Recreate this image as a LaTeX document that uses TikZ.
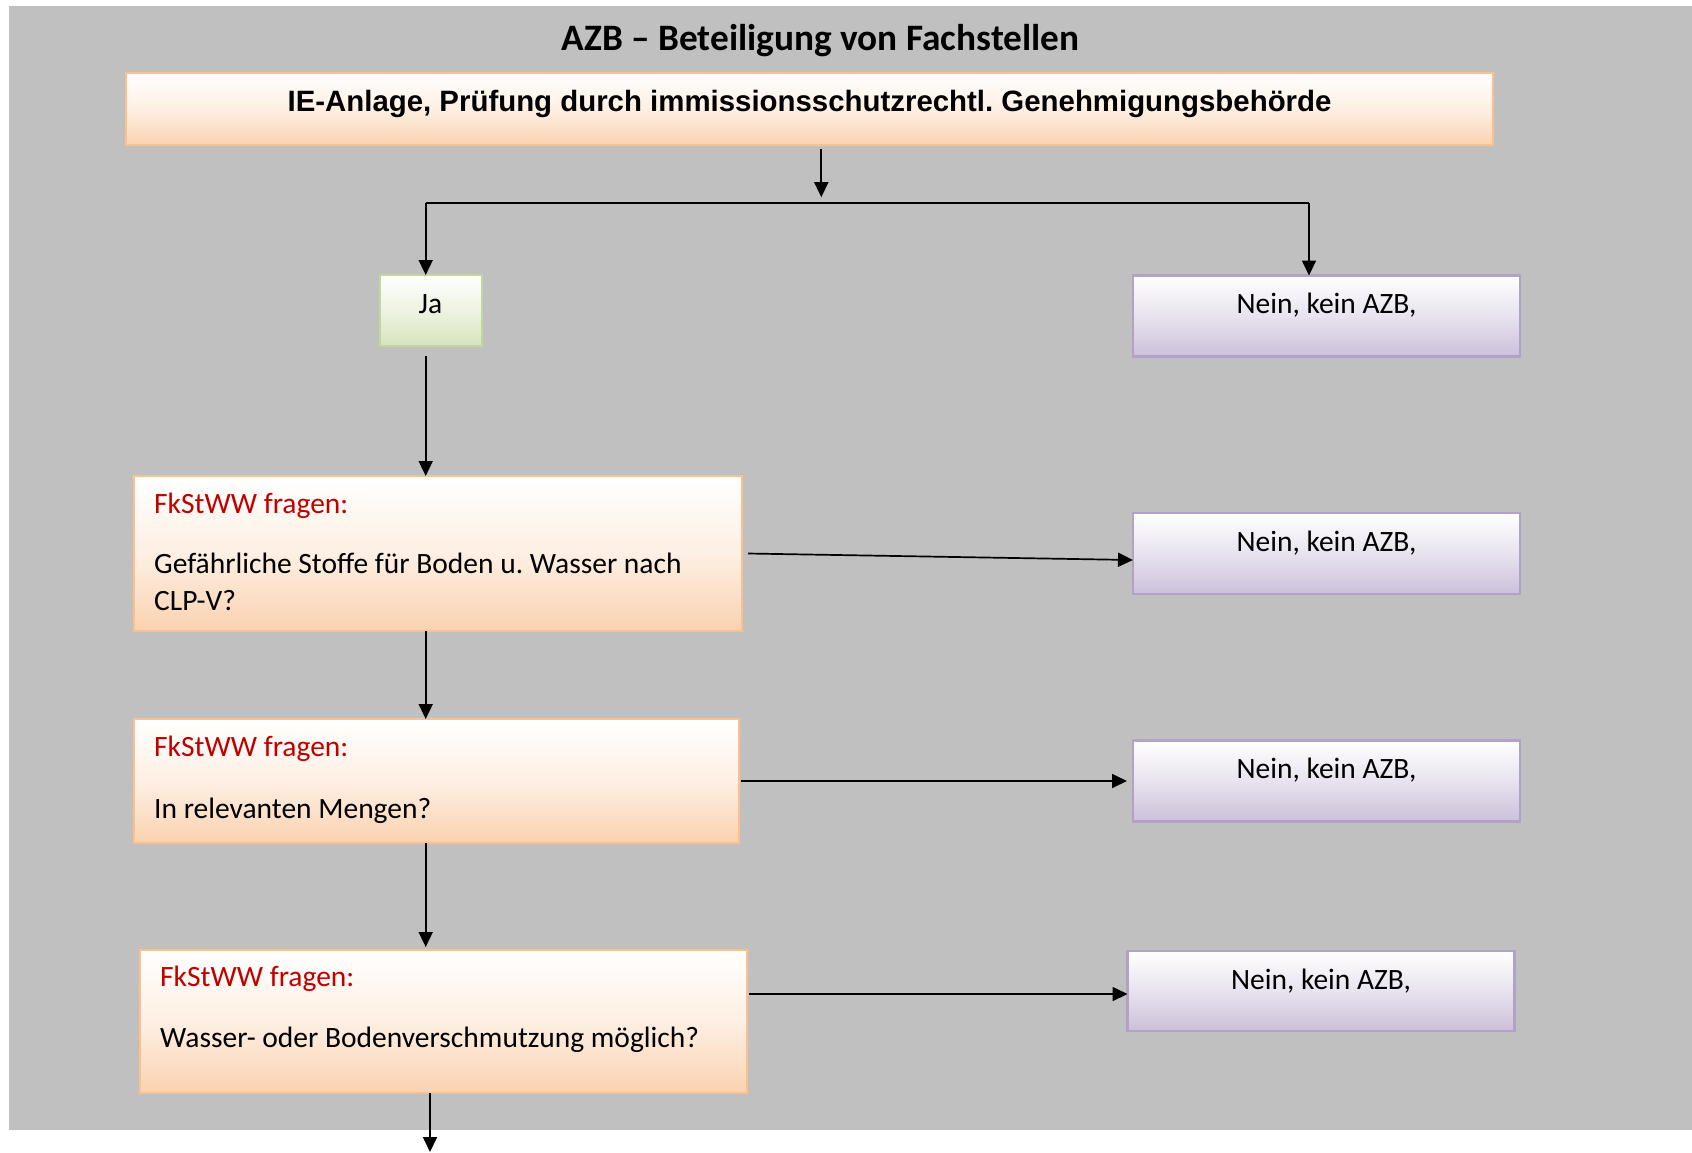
\documentclass[tikz,border=0pt]{standalone}
\usepackage{fontspec}
\setmainfont{Carlito}
\newfontfamily\arialfont{Liberation Sans}
\usetikzlibrary{arrows.meta}
\definecolor{bgray}{RGB}{192,192,192}
\definecolor{oB}{RGB}{250,192,144}
\definecolor{oF}{RGB}{250,210,176}
\definecolor{pB}{RGB}{179,162,199}
\definecolor{pF}{RGB}{204,192,218}
\definecolor{gB}{RGB}{195,214,155}
\definecolor{gF}{RGB}{215,228,189}
\definecolor{redtxt}{RGB}{192,0,0}
\frenchspacing
\tikzset{
  box/.style={line width=2.5pt, inner sep=0pt, outer sep=0pt, rectangle},
  obox/.style={box, draw=oB, top color=white, bottom color=oF, middle color={oF!35!white}},
  pbox/.style={box, draw=pB, top color=white, bottom color=pF, middle color={pF!45!white}},
  gbox/.style={box, draw=gB, top color=white, bottom color=gF, middle color={gF!45!white}},
  txt/.style={inner sep=0pt, font=\fontsize{29.5}{34}\selectfont},
  qtxt/.style={txt, anchor=base west},
  rtxt/.style={qtxt, text=redtxt},
  ntxt/.style={txt, anchor=base},
  arr/.style={-{Triangle[length=15pt,width=14pt]}, line width=1.7pt},
  ln/.style={line width=1.7pt}
}
\begin{document}
\begin{tikzpicture}[x=1pt,y=-1pt]
\useasboundingbox (0,0) rectangle (1692,1152);
\fill[bgray] (8.6,6) rectangle (1692,1129.5);

% title
\node[inner sep=0pt, anchor=base, font=\bfseries\fontsize{37.3}{44}\selectfont] (title) at (820.5,50) {AZB – Beteiligung von Fachstellen};

% boxes
\node[obox, minimum width=1367pt, minimum height=72pt] (top) at (809.5,109) {};
\node[gbox, minimum width=102pt, minimum height=71pt] (ja) at (431,310.5) {};
\node[pbox, minimum width=387pt, minimum height=81pt] (n1) at (1326.5,316) {};
\node[pbox, minimum width=387pt, minimum height=81pt] (n2) at (1326.5,553.5) {};
\node[pbox, minimum width=387pt, minimum height=81pt] (n3) at (1326.5,781) {};
\node[pbox, minimum width=387pt, minimum height=80pt] (n4) at (1321,991) {};
\node[obox, minimum width=608pt, minimum height=155pt] (b1) at (438,553.5) {};
\node[obox, minimum width=605pt, minimum height=124pt] (b2) at (436.5,781) {};
\node[obox, minimum width=607pt, minimum height=143pt] (b3) at (443.5,1021.5) {};

% texts
\node[inner sep=0pt, anchor=base, font=\arialfont\bfseries\fontsize{29.4}{34}\selectfont] (toptxt) at (809.5,111) {IE-Anlage, Prüfung durch immissionsschutzrechtl. Genehmigungsbehörde};
\node[ntxt] (jatxt) at (430.5,313.5) {Ja};
\node[ntxt] (n1txt) at (1326.5,313) {Nein, kein AZB,};
\node[ntxt] (n2txt) at (1326.5,551) {Nein, kein AZB,};
\node[ntxt] (n3txt) at (1326.5,778.3) {Nein, kein AZB,};
\node[ntxt] (n4txt) at (1321,989) {Nein, kein AZB,};

\node[rtxt] (b1a) at (154,513.3) {FkStWW fragen:};
\node[qtxt] (b1b) at (154,573.3) {Gefährliche Stoffe für Boden u. Wasser nach};
\node[qtxt] (b1c) at (154,610) {CLP-V?};
\node[rtxt] (b2a) at (154,756.7) {FkStWW fragen:};
\node[qtxt] (b2b) at (154,818.3) {In relevanten Mengen?};
\node[rtxt] (b3a) at (160,986) {FkStWW fragen:};
\node[qtxt] (b3b) at (160,1047.7) {Wasser- oder Bodenverschmutzung möglich?};

% coordinates
\coordinate (j) at (821.3,202.7);
\coordinate (jl) at (425.7,202.7);
\coordinate (jr) at (1309,202.7);
\coordinate (a3) at (749,994);
\coordinate (endc) at (430,1152);

% connectors
\draw[arr] ([yshift=-4pt]top.south -| j) -- ([yshift=5.5pt]j);
\draw[ln] (jl) -- (jr);
\draw[arr] (jl) -- (jl |- ja.north);
\draw[arr] (jr) -- (jr |- n1.north);
\draw[arr] ([yshift=-10pt]ja.south -| jl) -- (jl |- b1.north);
\draw[arr] (jl |- b1.south) -- (jl |- b2.north);
\draw[arr] (jl |- b2.south) -- ([yshift=3pt]jl |- b3.north);
\draw[arr] (b3.south -| endc) -- (endc);
\draw[arr] ([xshift=6pt]b1.east) -- ([yshift=-6.5pt]n2.west);
\draw[arr] ([xshift=2pt]b2.east) -- ([xshift=-6pt]n3.west);
\draw[arr] (a3) -- (a3 -| n4.west);
\end{tikzpicture}
\end{document}
